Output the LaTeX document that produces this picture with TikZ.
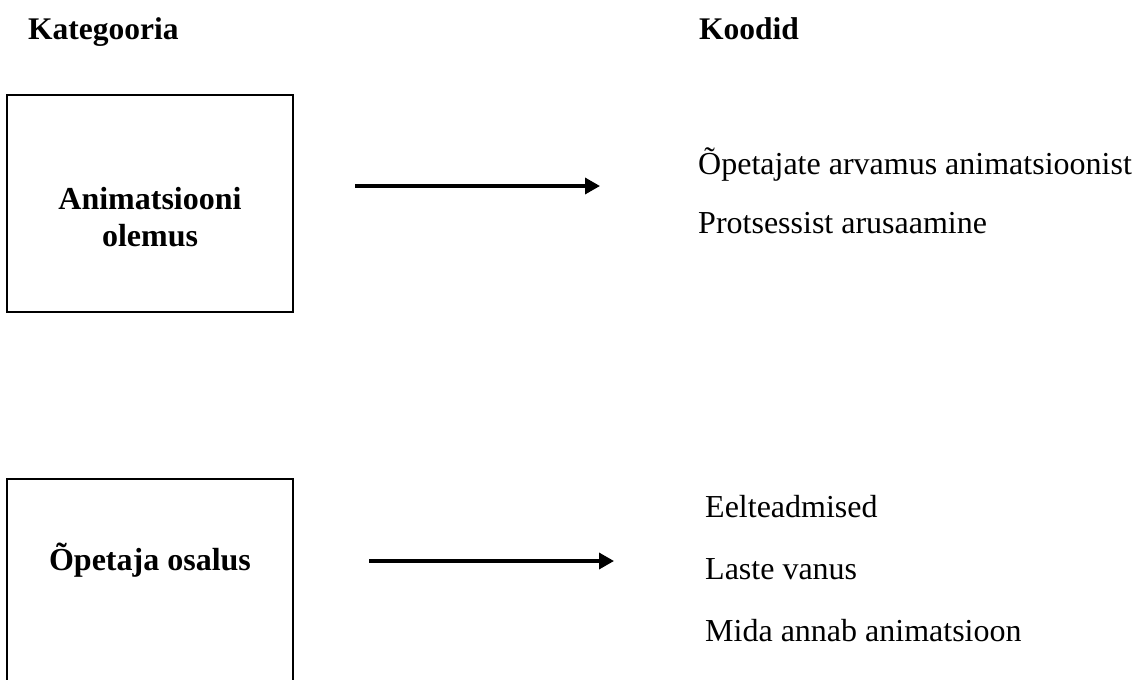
\documentclass[tikz,border=0pt]{standalone}
\usepackage{fontspec}
\setmainfont{Liberation Serif}
\usetikzlibrary{arrows.meta}
\tikzset{
  catbox/.style={draw, line width=2.2pt, minimum width=286pt, inner sep=0pt},
  head/.style={font=\fontsize{31.5}{31.5}\selectfont\bfseries, anchor=base west, inner sep=0pt},
  boxtext/.style={font=\fontsize{32}{36.8}\selectfont\bfseries, align=center, inner sep=0pt},
  code/.style={font=\fontsize{32}{32}\selectfont, anchor=base west, inner sep=0pt},
  flow/.style={line width=3.4pt, -{Triangle[length=15pt,width=16pt]}}
}
\begin{document}
\begin{tikzpicture}[x=1pt,y=-1pt]
\useasboundingbox (0,0) rectangle (1138,680);
\clip (0,0) rectangle (1138,680);
\node[head] (kat) at (28,39) {Kategooria};
\node[head] (kood) at (699,39) {Koodid};
% top box
\node[catbox, minimum height=217pt] (b1) at (150,203.5) {};
\node[boxtext] (t1) at (150,217) {Animatsiooni\\olemus};
% bottom box (runs past the lower edge)
\node[catbox, minimum height=260pt] (b2) at (150,609) {};
\node[boxtext, anchor=base] (t2) at (150,570) {Õpetaja osalus};
% arrows
\coordinate (a1s) at (355,186);
\coordinate (a1e) at (600,186);
\coordinate (a2s) at (369,561);
\coordinate (a2e) at (614,561);
\draw[flow] (a1s) -- (a1e);
\draw[flow] (a2s) -- (a2e);
% codes
\node[code] (c1) at (698,174) {Õpetajate arvamus animatsioonist};
\node[code] (c2) at (698,233) {Protsessist arusaamine};
\node[code] (c3) at (705,517) {Eelteadmised};
\node[code] (c4) at (705,579) {Laste vanus};
\node[code] (c5) at (705,641) {Mida annab animatsioon};
\end{tikzpicture}
\end{document}
